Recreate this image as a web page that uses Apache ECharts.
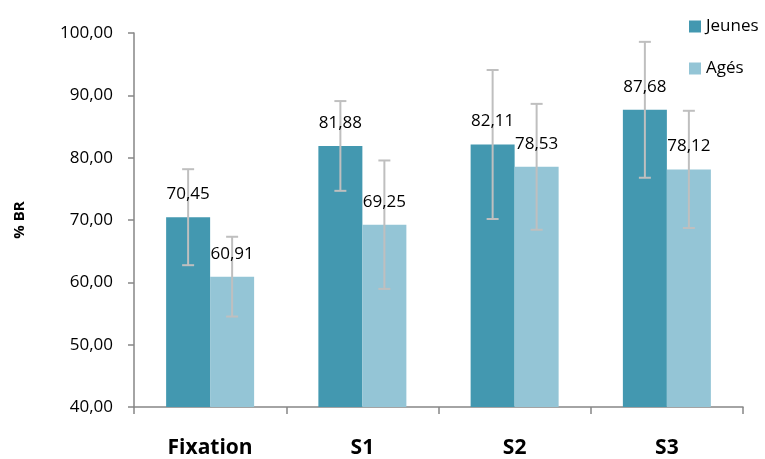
<!DOCTYPE html>
<html>
<head>
<meta charset="utf-8">
<script src="https://cdn.jsdelivr.net/npm/echarts@6/dist/echarts.min.js"></script>
<style>html,body{margin:0;padding:0;background:#fff}#c{width:765px;height:459px}</style>
</head>
<body>
<div id="c"></div>
<script>
var categories = ['Fixation', 'S1', 'S2', 'S3'];
var jeunes = [70.45, 81.88, 82.11, 87.68];
var ages = [60.91, 69.25, 78.53, 78.12];
var jeunesErr = [7.7, 7.2, 11.95, 10.9];
var agesErr = [6.4, 10.3, 10.1, 9.4];

var FONT = '"Open Sans", Lato, sans-serif';
var BAR_W = 44;
var fmt = function (v) { return v.toFixed(2).replace('.', ','); };

function errSeries(name, vals, errs, offset) {
  return {
    type: 'custom',
    name: name + ' err',
    z: 5,
    silent: true,
    renderItem: function (params, api) {
      var i = api.value(0);
      var barTop = api.coord([i, api.value(1)]);
      var top = api.coord([i, api.value(2)]);
      var bot = api.coord([i, api.value(3)]);
      var x = top[0] + offset;
      var cap = 6;
      var style = { stroke: '#BFBFBF', lineWidth: 2 };
      return {
        type: 'group',
        children: [
          { type: 'line', shape: { x1: x, y1: top[1], x2: x, y2: bot[1] }, style: style },
          { type: 'line', shape: { x1: x - cap, y1: top[1], x2: x + cap, y2: top[1] }, style: style },
          { type: 'line', shape: { x1: x - cap, y1: bot[1], x2: x + cap, y2: bot[1] }, style: style },
          { type: 'text', z2: 10, style: { x: x, y: barTop[1] - 23, text: fmt(api.value(1)), fill: '#000', font: '17px ' + FONT, align: 'center', verticalAlign: 'middle' } }
        ]
      };
    },
    data: vals.map(function (v, i) { return [i, v, v + errs[i], v - errs[i]]; })
  };
}

var chart = echarts.init(document.getElementById('c'), null, { renderer: 'canvas' });
chart.setOption({
  animation: false,
  textStyle: { fontFamily: FONT },
  grid: { left: 134, right: 22, top: 33, bottom: 52 },
  legend: {
    orient: 'vertical',
    left: 684,
    top: 13,
    itemWidth: 12,
    itemHeight: 12,
    itemGap: 25,
    icon: 'rect',
    textStyle: { fontSize: 17, color: '#000', fontFamily: FONT },
    data: ['Jeunes', 'Agés']
  },
  xAxis: {
    type: 'category',
    data: categories,
    axisLine: { lineStyle: { color: '#868686', width: 1.5 } },
    axisTick: { show: true, length: 7, lineStyle: { color: '#868686', width: 1.5 } },
    axisLabel: { fontSize: 21, fontWeight: 'bold', color: '#000', margin: 31, fontFamily: FONT }
  },
  yAxis: {
    type: 'value',
    min: 40,
    max: 100,
    interval: 10,
    name: '% BR',
    nameLocation: 'middle',
    nameGap: 107,
    nameRotate: 90,
    nameTextStyle: { fontSize: 15, fontWeight: 'bold', color: '#000', fontFamily: FONT },
    axisLine: { show: true, lineStyle: { color: '#868686', width: 1.5 } },
    axisTick: { show: true, length: 6, lineStyle: { color: '#868686', width: 1.5 } },
    splitLine: { show: false },
    axisLabel: { fontSize: 17, color: '#000', margin: 21, fontFamily: FONT, formatter: fmt }
  },
  series: [
    {
      name: 'Jeunes',
      type: 'bar',
      data: jeunes,
      barWidth: BAR_W,
      barGap: '0%',
      itemStyle: { color: '#4398B0' }
    },
    {
      name: 'Agés',
      type: 'bar',
      data: ages,
      barWidth: BAR_W,
      barGap: '0%',
      itemStyle: { color: '#94C5D6' }
    },
    errSeries('Jeunes', jeunes, jeunesErr, -BAR_W / 2),
    errSeries('Agés', ages, agesErr, BAR_W / 2)
  ]
});
</script>
</body>
</html>
